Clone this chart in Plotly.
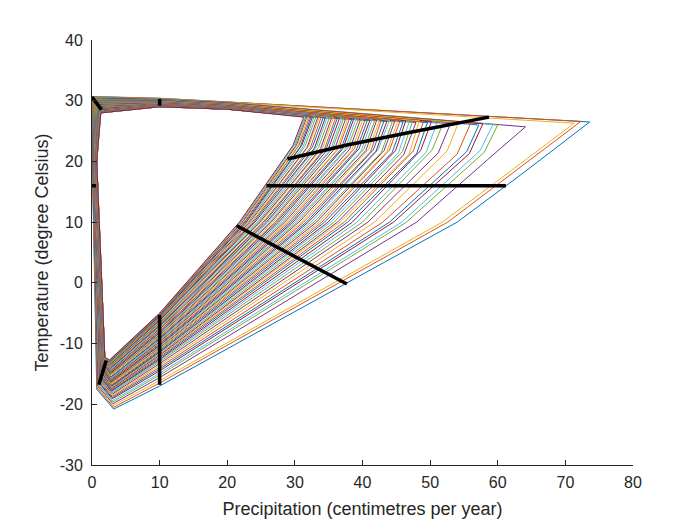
import plotly.graph_objs as go

# one loop per run, outermost first (P = precipitation, T = temperature)
peak_p = [73.6, 72.3, 71.3, 64.1, 60.0, 59.3, 57.8, 57.2, 56.0, 54.2,
          53.0, 52.0, 51.0, 50.2, 49.6, 49.0, 48.4, 47.9, 47.4, 46.9,
          46.4, 46.0, 45.6, 45.2, 44.8, 44.4, 44.0, 43.6, 43.2, 42.8,
          42.5, 42.1, 41.8, 41.4, 41.1, 40.7, 40.4, 40.0, 39.7, 39.4,
          39.0, 38.7, 38.4, 38.1, 37.8, 37.5, 37.2, 36.9, 36.6, 36.3,
          36.0, 35.7, 35.4, 35.1, 34.8, 34.5, 34.2, 33.9, 33.6, 33.4,
          33.1, 32.8, 32.6, 32.4, 32.2, 32.0, 31.8, 31.6, 31.5, 31.3]
peak_t = [26.5, 26.6, 26.3, 25.7, 26.0, 26.1, 26.2, 26.0, 26.3, 26.4,
          26.2, 26.5, 26.3, 26.6, 26.4, 26.5, 26.7, 26.4, 26.6, 26.5,
          26.7, 26.5, 26.8, 26.6, 26.7, 26.5, 26.8, 26.6, 26.7, 26.9,
          26.7, 26.8, 26.7, 26.9, 26.8, 26.7, 26.9, 26.8, 26.9, 27.0,
          26.9, 27.0, 26.9, 27.1, 27.0, 27.0, 27.1, 27.0, 27.1, 27.2,
          27.1, 27.2, 27.1, 27.2, 27.3, 27.2, 27.2, 27.3, 27.2, 27.3,
          27.3, 27.2, 27.3, 27.4, 27.3, 27.3, 27.4, 27.3, 27.4, 27.3]
knee_p = [64.0, 62.8, 62.0, 58.5, 58.0, 57.4, 55.8, 55.4, 54.0, 52.5,
          51.2, 50.3, 49.4, 48.6, 48.0, 47.5, 46.9, 46.1, 45.9, 45.3,
          44.9, 44.4, 44.0, 43.6, 43.2, 42.8, 42.3, 42.0, 41.6, 41.2,
          40.9, 40.5, 40.2, 39.8, 39.5, 39.1, 38.8, 38.4, 38.1, 37.8,
          37.4, 37.1, 36.8, 36.5, 36.2, 35.9, 35.6, 35.3, 35.0, 34.7,
          34.4, 34.1, 33.8, 33.5, 33.2, 32.9, 32.6, 32.3, 32.0, 31.8,
          31.5, 31.2, 31.0, 30.8, 30.6, 30.4, 30.2, 30.0, 29.9, 29.7]
knee_t = [18.3, 18.6, 18.5, 20.3, 21.5, 21.8, 21.3, 21.6, 21.2, 21.7,
          21.4, 21.9, 21.5, 21.8, 21.3, 21.7, 21.2, 21.1, 21.6, 21.4,
          21.8, 21.5, 21.9, 21.6, 21.8, 21.5, 21.9, 21.7, 21.9, 21.6,
          22.0, 21.8, 22.0, 21.7, 22.1, 21.9, 22.1, 21.8, 22.0, 22.2,
          21.9, 22.1, 22.0, 22.2, 21.9, 22.1, 22.2, 22.0, 22.2, 22.3,
          22.1, 22.3, 22.1, 22.3, 22.4, 22.2, 22.4, 22.3, 22.5, 22.3,
          22.5, 22.4, 22.6, 22.4, 22.6, 22.5, 22.6, 22.5, 22.7, 22.6]
# precipitation where each loop crosses 10 degrees
mid_p = [54.0, 52.6, 51.8, 48.0, 46.5, 45.8, 44.6, 44.0, 43.0, 41.8,
         40.8, 40.0, 39.2, 38.5, 37.8, 37.3, 36.7, 36.3, 35.8, 35.3,
         34.9, 34.4, 34.0, 33.6, 33.2, 32.8, 32.4, 32.0, 31.7, 31.3,
         31.0, 30.6, 30.3, 30.0, 29.7, 29.4, 29.1, 28.8, 28.5, 28.2,
         27.9, 27.6, 27.3, 27.1, 26.8, 26.5, 26.3, 26.0, 25.8, 25.5,
         25.3, 25.0, 24.8, 24.6, 24.4, 24.1, 23.9, 23.7, 23.5, 23.3,
         23.1, 22.9, 22.8, 22.6, 22.5, 22.3, 22.2, 22.0, 21.9, 21.8]
# temperature where each loop crosses 10 cm/yr on the way down
low_t = [-17.0, -16.5, -16.1, -15.6, -15.2, -14.9, -14.5, -14.2, -13.9, -13.6,
         -13.3, -13.0, -12.8, -12.6, -12.4, -12.2, -12.0, -11.9, -11.7, -11.5,
         -11.4, -11.2, -11.0, -10.9, -10.7, -10.6, -10.4, -10.3, -10.1, -10.0,
         -9.8, -9.7, -9.5, -9.4, -9.2, -9.1, -8.9, -8.8, -8.6, -8.5,
         -8.3, -8.2, -8.0, -7.9, -7.7, -7.6, -7.4, -7.3, -7.1, -7.0,
         -6.9, -6.7, -6.6, -6.5, -6.3, -6.2, -6.1, -6.0, -5.9, -5.8,
         -5.7, -5.6, -5.5, -5.4, -5.3, -5.2, -5.2, -5.1, -5.0, -5.0]
bot_p = [3.2, 3.2, 3.1, 3.1, 3.1, 3.0, 3.0, 3.0, 3.0, 3.0,
         3.0, 3.0, 2.9, 2.9, 2.9, 2.9, 2.9, 2.9, 2.9, 2.9,
         2.9, 2.9, 2.9, 2.8, 2.8, 2.8, 2.8, 2.8, 2.8, 2.8,
         2.8, 2.8, 2.8, 2.8, 2.8, 2.8, 2.7, 2.7, 2.7, 2.7,
         2.7, 2.7, 2.7, 2.7, 2.7, 2.7, 2.7, 2.7, 2.7, 2.7,
         2.6, 2.6, 2.6, 2.6, 2.6, 2.6, 2.6, 2.6, 2.6, 2.6,
         2.6, 2.6, 2.6, 2.6, 2.6, 2.6, 2.6, 2.6, 2.6, 2.6]
bot_t = [-20.8, -20.5, -20.2, -19.9, -19.6, -19.4, -19.1, -18.9, -18.7, -18.5,
         -18.3, -18.1, -18.0, -17.8, -17.7, -17.6, -17.4, -17.4, -17.2, -17.1,
         -17.0, -16.9, -16.8, -16.7, -16.5, -16.5, -16.3, -16.3, -16.1, -16.1,
         -15.9, -15.9, -15.7, -15.7, -15.5, -15.5, -15.3, -15.3, -15.1, -15.1,
         -14.9, -14.9, -14.7, -14.7, -14.5, -14.5, -14.3, -14.3, -14.1, -14.1,
         -14.0, -13.9, -13.8, -13.7, -13.6, -13.5, -13.4, -13.4, -13.3, -13.2,
         -13.2, -13.1, -13.0, -13.0, -12.9, -12.8, -12.8, -12.8, -12.7, -12.7]
foot_p = [0.7, 0.75, 0.8, 0.8, 0.85, 0.9, 0.9, 0.95, 1.0, 1.0,
          1.05, 1.1, 1.1, 1.15, 1.2, 1.2, 1.25, 1.25, 1.3, 1.3,
          1.35, 1.35, 1.4, 1.4, 1.4, 1.45, 1.45, 1.5, 1.5, 1.5,
          1.55, 1.55, 1.55, 1.6, 1.6, 1.6, 1.6, 1.65, 1.65, 1.65,
          1.7, 1.7, 1.7, 1.7, 1.7, 1.75, 1.75, 1.75, 1.75, 1.75,
          1.8, 1.8, 1.8, 1.8, 1.8, 1.8, 1.85, 1.85, 1.85, 1.85,
          1.85, 1.85, 1.9, 1.9, 1.9, 1.9, 1.9, 1.9, 1.9, 1.9]
foot_t = [-17.5, -17.3, -17.1, -16.9, -16.7, -16.5, -16.3, -16.2, -16.0, -15.9,
          -15.8, -15.6, -15.5, -15.4, -15.3, -15.2, -15.1, -15.0, -14.9, -14.8,
          -14.7, -14.6, -14.5, -14.4, -14.3, -14.2, -14.2, -14.1, -14.0, -13.9,
          -13.8, -13.8, -13.7, -13.6, -13.6, -13.5, -13.4, -13.4, -13.3, -13.3,
          -13.2, -13.2, -13.1, -13.1, -13.0, -13.0, -12.9, -12.9, -12.9, -12.8,
          -12.8, -12.8, -12.7, -12.7, -12.7, -12.6, -12.6, -12.6, -12.5, -12.5,
          -12.5, -12.5, -12.4, -12.4, -12.4, -12.4, -12.3, -12.3, -12.3, -12.3]
# left edge precipitation at 20 degrees
side_p = [0.05, 0.05, 0.1, 0.1, 0.1, 0.15, 0.15, 0.15, 0.2, 0.2,
          0.2, 0.25, 0.25, 0.25, 0.3, 0.3, 0.3, 0.3, 0.35, 0.35,
          0.35, 0.35, 0.4, 0.4, 0.4, 0.4, 0.4, 0.45, 0.45, 0.45,
          0.45, 0.45, 0.5, 0.5, 0.5, 0.5, 0.5, 0.5, 0.55, 0.55,
          0.55, 0.55, 0.55, 0.55, 0.6, 0.6, 0.6, 0.6, 0.6, 0.6,
          0.6, 0.65, 0.65, 0.65, 0.65, 0.65, 0.65, 0.65, 0.65, 0.7,
          0.7, 0.7, 0.7, 0.7, 0.7, 0.7, 0.7, 0.7, 0.7, 0.7]
corner_p = [0.05, 0.1, 0.1, 0.15, 0.15, 0.2, 0.2, 0.25, 0.25, 0.3,
            0.3, 0.35, 0.35, 0.4, 0.4, 0.45, 0.45, 0.5, 0.5, 0.55,
            0.55, 0.6, 0.6, 0.6, 0.65, 0.65, 0.7, 0.7, 0.7, 0.75,
            0.75, 0.8, 0.8, 0.8, 0.85, 0.85, 0.85, 0.9, 0.9, 0.9,
            0.95, 0.95, 0.95, 1.0, 1.0, 1.0, 1.0, 1.05, 1.05, 1.05,
            1.1, 1.1, 1.1, 1.1, 1.15, 1.15, 1.15, 1.15, 1.2, 1.2,
            1.2, 1.2, 1.25, 1.25, 1.25, 1.25, 1.3, 1.3, 1.3, 1.3]
corner_t = [30.7, 30.65, 30.6, 30.55, 30.5, 30.45, 30.4, 30.35, 30.3, 30.25,
            30.2, 30.15, 30.1, 30.05, 30.0, 29.95, 29.9, 29.85, 29.8, 29.75,
            29.7, 29.65, 29.6, 29.55, 29.5, 29.45, 29.4, 29.35, 29.3, 29.25,
            29.2, 29.15, 29.1, 29.05, 29.0, 28.95, 28.9, 28.85, 28.8, 28.75,
            28.7, 28.65, 28.6, 28.55, 28.5, 28.5, 28.45, 28.4, 28.4, 28.35,
            28.3, 28.3, 28.25, 28.25, 28.2, 28.2, 28.15, 28.15, 28.1, 28.1,
            28.1, 28.05, 28.05, 28.05, 28.0, 28.0, 28.0, 28.0, 28.0, 28.0]
# top edge temperature at 10 and 20 cm/yr
top10_t = [30.4, 30.4, 30.35, 30.3, 30.3, 30.25, 30.2, 30.2, 30.15, 30.1,
           30.1, 30.05, 30.0, 30.0, 29.95, 29.9, 29.9, 29.85, 29.8, 29.8,
           29.75, 29.75, 29.7, 29.7, 29.65, 29.65, 29.6, 29.6, 29.55, 29.55,
           29.5, 29.5, 29.45, 29.45, 29.4, 29.4, 29.4, 29.35, 29.35, 29.3,
           29.3, 29.3, 29.25, 29.25, 29.25, 29.2, 29.2, 29.2, 29.2, 29.15,
           29.15, 29.15, 29.15, 29.1, 29.1, 29.1, 29.1, 29.1, 29.05, 29.05,
           29.05, 29.05, 29.05, 29.0, 29.0, 29.0, 29.0, 29.0, 29.0, 29.0]
top20_t = [29.8, 29.8, 29.75, 29.7, 29.65, 29.6, 29.6, 29.55, 29.5, 29.5,
           29.45, 29.4, 29.4, 29.35, 29.35, 29.3, 29.3, 29.25, 29.25, 29.2,
           29.2, 29.15, 29.15, 29.1, 29.1, 29.05, 29.05, 29.0, 29.0, 29.0,
           28.95, 28.95, 28.9, 28.9, 28.9, 28.85, 28.85, 28.85, 28.8, 28.8,
           28.8, 28.8, 28.75, 28.75, 28.75, 28.75, 28.7, 28.7, 28.7, 28.7,
           28.7, 28.7, 28.65, 28.65, 28.65, 28.65, 28.65, 28.65, 28.6, 28.6,
           28.6, 28.6, 28.6, 28.6, 28.6, 28.6, 28.6, 28.6, 28.6, 28.6]

# black marker segments
mark_p = [[0.0, 1.4], [10, 10], [0.0, 0.6], [1.0, 2.1], [10, 10],
          [21.4, 37.7], [25.8, 61.2], [28.9, 37.7, 47.1, 58.7]]
mark_t = [[30.6, 28.5], [29.2, 30.3], [16, 16], [-16.8, -12.8], [-5.3, -16.8],
          [9.4, -0.2], [16, 16], [20.4, 22.7, 24.8, 27.3]]

x_ticks = [0, 10, 20, 30, 40, 50, 60, 70, 80]
y_ticks = [-30, -20, -10, 0, 10, 20, 30, 40]
y_labels = ['-30', '-20', '-10', '0', '10', '20', '30', '40']

matlab_colors = ['#0072BD', '#D95319', '#EDB120', '#7E2F8E',
                 '#77AC30', '#4DBEEE', '#A2142F']

fig = go.Figure()

for i in range(len(peak_p)):
    xs = [corner_p[i], 10, 20, peak_p[i], knee_p[i], mid_p[i], 10,
          bot_p[i], foot_p[i], side_p[i], corner_p[i]]
    ys = [corner_t[i], top10_t[i], top20_t[i], peak_t[i], knee_t[i], 10, low_t[i],
          bot_t[i], foot_t[i], 20, corner_t[i]]
    fig.add_trace(go.Scatter(x=xs, y=ys, mode='lines',
                             line=dict(color=matlab_colors[i % 7], width=1),
                             hoverinfo='skip'))

for px, pt in zip(mark_p, mark_t):
    fig.add_trace(go.Scatter(x=px, y=pt, mode='lines',
                             line=dict(color='black', width=3.5),
                             hoverinfo='skip'))

axis_font = dict(family='Arial, Liberation Sans, sans-serif', size=16, color='#262626')

# the page adds an 8px body margin, so the margins are pulled in by 8px
fig.update_layout(
    width=700, height=525,
    margin=dict(l=84, r=75, t=32, b=68),
    paper_bgcolor='white', plot_bgcolor='white',
    showlegend=False,
    font=axis_font,
    xaxis=dict(range=[0, 80], tickvals=x_ticks,
               ticks='inside', ticklen=5, tickcolor='#262626',
               ticklabelstandoff=3,
               showline=True, linecolor='#262626', linewidth=1,
               showgrid=False, zeroline=False,
               title=dict(text='Precipitation (centimetres per year)',
                          font=dict(size=18), standoff=12)),
    yaxis=dict(range=[-30, 40], tickvals=y_ticks, ticktext=y_labels,
               ticks='inside', ticklen=5, tickcolor='#262626',
               ticklabelstandoff=5,
               showline=True, linecolor='#262626', linewidth=1,
               showgrid=False, zeroline=False,
               title=dict(text='Temperature (degree Celsius)',
                          font=dict(size=18), standoff=6)),
)

fig.write_html("out.html")
